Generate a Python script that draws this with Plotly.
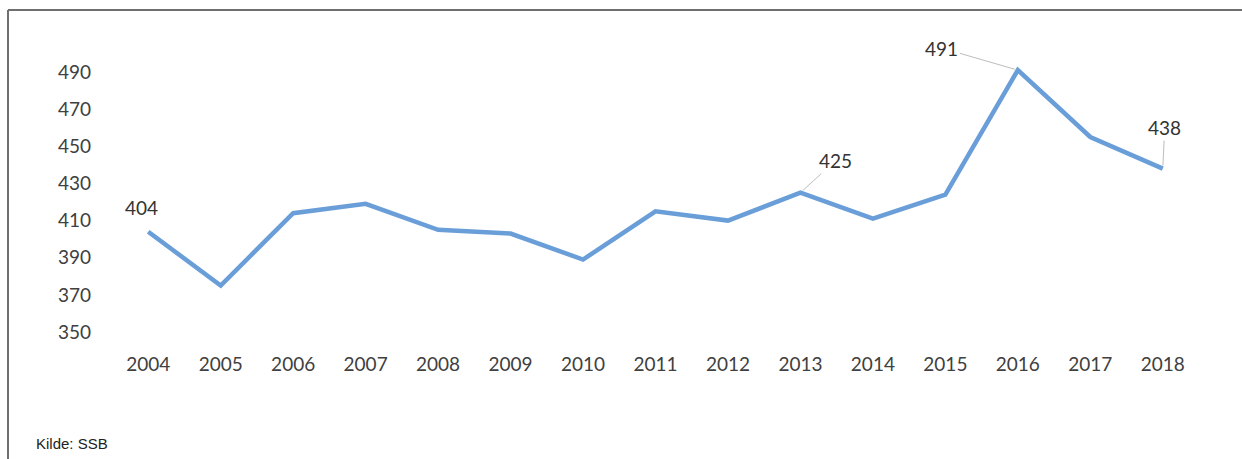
import plotly.graph_objects as go

years = [2004, 2005, 2006, 2007, 2008, 2009, 2010, 2011, 2012, 2013, 2014, 2015, 2016, 2017, 2018]
values = [404, 375, 414, 419, 405, 403, 389, 415, 410, 425, 411, 424, 491, 455, 438]
y_ticks = [350, 370, 390, 410, 430, 450, 470, 490]
labeled_years = [2004, 2013, 2016, 2018]

W, H = 1242, 459
FONT = "Lato"

fig = go.Figure()
fig.add_trace(go.Scatter(
    x=years, y=values, mode="lines",
    line=dict(color="#6a9ed8", width=4.5),
    hoverinfo="skip",
))

# label offsets in pixels (ax, ay) for leader lines
offsets = {2004: (-7, -24, False), 2013: (35, -32, True), 2016: (-76, -22, True), 2018: (2, -41, True)}
for yr in labeled_years:
    v = values[years.index(yr)]
    ax, ay, arrow = offsets[yr]
    if arrow:
        fig.add_annotation(x=yr, y=v, text=str(v), showarrow=True, arrowhead=0,
                           arrowwidth=1, arrowcolor="#bdbdbd", ax=ax, ay=ay,
                           standoff=3, font=dict(family=FONT, size=19, color="#333333"))
    else:
        fig.add_annotation(x=yr, y=v, text=str(v), showarrow=False,
                           xshift=ax, yshift=-ay, font=dict(family=FONT, size=19, color="#333333"))

fig.add_annotation(x=34 / W, y=1 - 443 / H, xref="paper", yref="paper", text="Kilde: SSB",
                   showarrow=False, xanchor="left", yanchor="middle",
                   font=dict(family="Liberation Sans", size=15, color="#222222"))

# frame
fig.add_shape(type="line", xref="paper", yref="paper", x0=8 / W, x1=8 / W, y0=0, y1=1 - 10 / H,
              line=dict(color="#6f6f6f", width=2))
fig.add_shape(type="line", xref="paper", yref="paper", x0=8 / W, x1=1, y0=1 - 10 / H, y1=1 - 10 / H,
              line=dict(color="#6f6f6f", width=2))

fig.update_layout(
    width=W, height=H,
    margin=dict(l=0, r=0, t=0, b=0),
    paper_bgcolor="white", plot_bgcolor="white",
    showlegend=False,
    xaxis=dict(domain=[112 / W, 1199 / W], range=[2003.5, 2018.5], tickmode="array",
               tickvals=years, ticktext=[str(y) for y in years], showgrid=False,
               zeroline=False, showline=False, ticks="",
               tickfont=dict(family=FONT, size=19, color="#404040")),
    yaxis=dict(domain=[1 - 350.6 / H, 1 - 53.4 / H], range=[340, 500], tickmode="array",
               tickvals=y_ticks, showgrid=False, zeroline=False, showline=False, ticks="",
               ticklabelstandoff=20,
               tickfont=dict(family=FONT, size=19, color="#404040")),
)

fig.write_html("out.html")
